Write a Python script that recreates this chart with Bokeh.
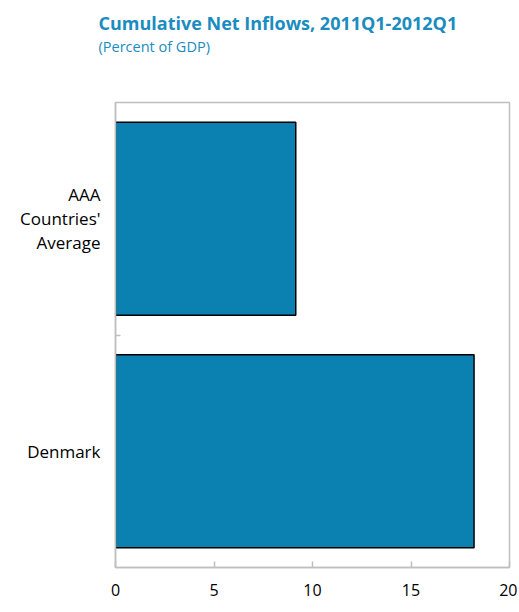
from bokeh.plotting import figure
from bokeh.models import Range1d, FixedTicker, Title, ColumnDataSource
from bokeh.embed import file_html
from bokeh.resources import INLINE

# Data (bottom to top)
categories = ["Denmark", "AAA\nCountries'\nAverage"]
values = [18.2, 9.15]
x_ticks = [0, 5, 10, 15, 20]

FONT = "Open Sans"
BLUE = "#0a81b0"
TITLE_BLUE = "#1a8cc0"
GRAY = "#bfbfbf"

ypos = [i + 0.5 for i in range(len(categories))]
src = ColumnDataSource(dict(y=ypos, v=values))

p = figure(width=517, height=610, output_backend="svg", toolbar_location=None,
           x_range=Range1d(0, 20), y_range=Range1d(0, len(categories)),
           min_border_left=115, min_border_right=8, min_border_top=0,
           min_border_bottom=43, title=None)

p.hbar(y="y", right="v", left=0, height=0.83, source=src,
       fill_color=BLUE, line_color="black", line_width=1.5)

spacer = Title(text=" ", text_font=FONT, text_font_size="33px", standoff=0)
sub = Title(text="(Percent of GDP)", text_font=FONT, text_font_size="14.5px",
            text_font_style="normal", text_color=TITLE_BLUE, align="left",
            offset=-17, standoff=0)
main = Title(text="Cumulative Net Inflows, 2011Q1-2012Q1", text_font=FONT,
             text_font_size="18px", text_font_style="bold", text_color=TITLE_BLUE,
             align="left", offset=-17, standoff=0)
top_spacer = Title(text=" ", text_font=FONT, text_font_size="5px", standoff=0)
p.add_layout(spacer, "above")
p.add_layout(sub, "above")
p.add_layout(main, "above")
p.add_layout(top_spacer, "above")

p.xgrid.grid_line_color = None
p.ygrid.grid_line_color = None
p.outline_line_color = GRAY
p.outline_line_width = 1.5

xa = p.xaxis[0]
xa.ticker = FixedTicker(ticks=x_ticks, minor_ticks=[])
xa.axis_line_color = GRAY
xa.axis_line_width = 1.5
xa.major_tick_in = 6
xa.major_tick_out = 0
xa.major_tick_line_color = GRAY
xa.major_tick_line_width = 1.5
xa.minor_tick_line_color = None
xa.major_label_text_font = FONT
xa.major_label_text_font_size = "16px"
xa.major_label_text_color = "black"
xa.major_label_standoff = 16

ya = p.yaxis[0]
ya.ticker = FixedTicker(ticks=ypos, minor_ticks=[i for i in range(1, len(categories))])
ya.major_label_overrides = {y: c for y, c in zip(ypos, categories)}
ya.axis_line_color = GRAY
ya.axis_line_width = 1.5
ya.major_tick_in = 0
ya.major_tick_out = 0
ya.minor_tick_in = 5
ya.minor_tick_out = 0
ya.minor_tick_line_color = GRAY
ya.minor_tick_line_width = 1.5
ya.major_label_text_font = FONT
ya.major_label_text_font_size = "17px"
ya.major_label_text_line_height = 1.05
ya.major_label_text_color = "black"
ya.major_label_standoff = 15
ya.major_label_text_align = "center"

open("out.html", "w").write(file_html(p, INLINE))
